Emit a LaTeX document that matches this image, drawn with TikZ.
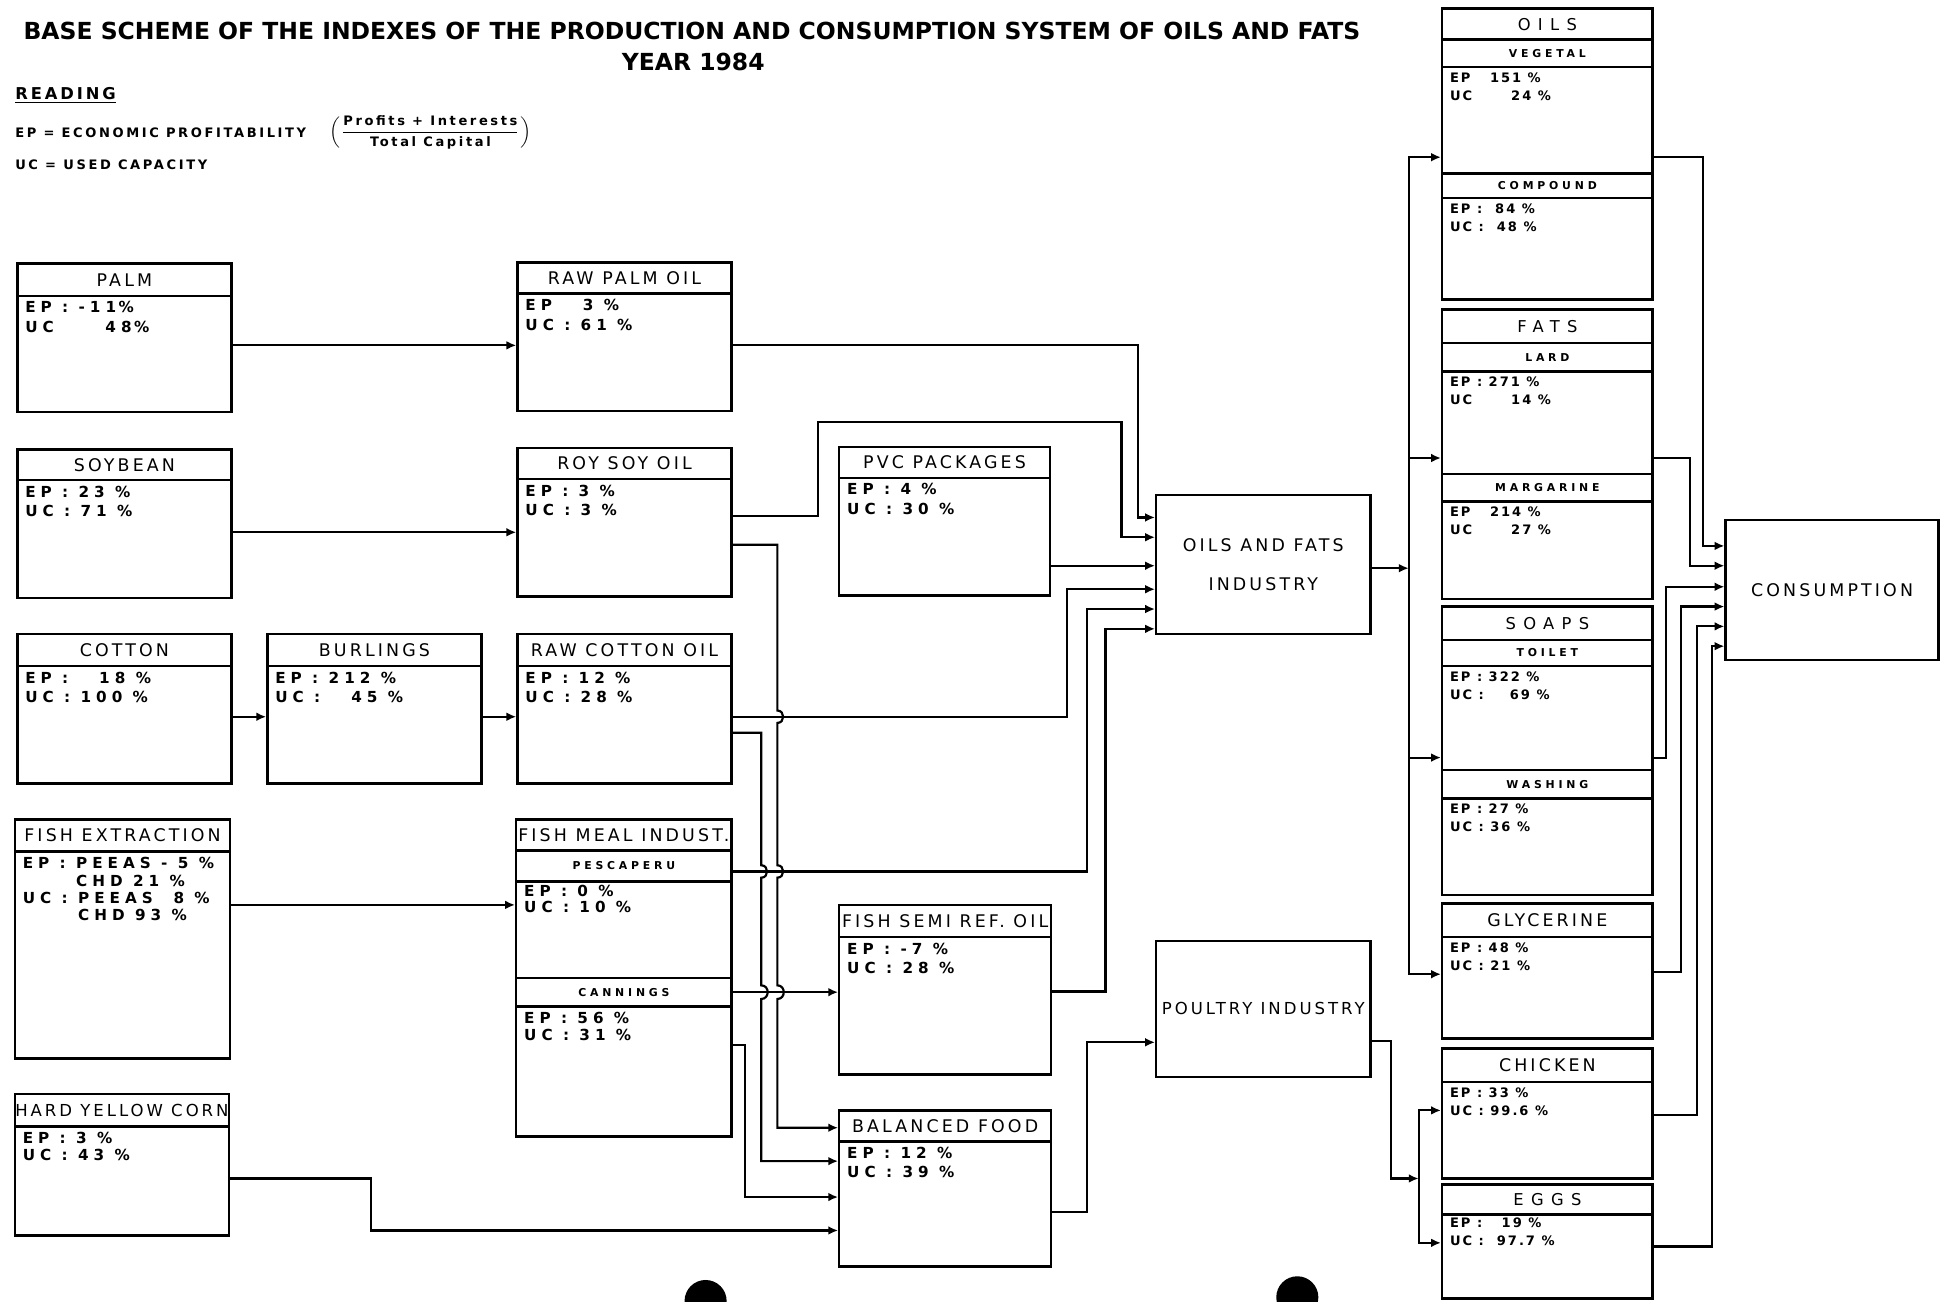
\documentclass[tikz,border=0pt]{standalone}
\usepackage{amsmath}
\usepackage{fontspec}
\setmainfont{DejaVu Sans}
\newfontfamily\headfont[LetterSpace=18]{DejaVu Sans}
\newfontfamily\widefont[LetterSpace=45]{DejaVu Sans}
\newfontfamily\bandfont[LetterSpace=35]{DejaVu Sans}
\newfontfamily\valfont[LetterSpace=33]{DejaVu Sans}
\newfontfamily\valrfont[LetterSpace=15]{DejaVu Sans}
\newfontfamily\legendfont[LetterSpace=20]{DejaVu Sans}
\usetikzlibrary{arrows.meta, fit}

\begin{document}
\begin{tikzpicture}[
    x=0.02cm, y=-0.02cm, inner sep=0pt,
    head/.style={draw, line width=1.1pt, label={[font=\headfont\fontsize{8}{9}\selectfont]center:#1}},
    headw/.style={draw, line width=1.1pt, label={[font=\widefont\fontsize{7.5}{9}\selectfont]center:#1}},
    band/.style={draw, line width=1.1pt, label={[font=\bandfont\bfseries\fontsize{5}{6}\selectfont]center:#1}},
    body/.style={draw, line width=1.1pt},
    vals/.style={anchor=north west, inner xsep=4pt, inner ysep=3pt, align=left, font=\valfont\bfseries\fontsize{7}{9}\selectfont},
    valsr/.style={vals, font=\valrfont\bfseries\fontsize{6}{8.3}\selectfont},
    unit/.style={draw, line width=1.1pt, label={[align=center, font=\headfont\fontsize{8}{9}\selectfont]center:#1}},
    legend/.style={anchor=west, font=\legendfont\bfseries\fontsize{6}{7}\selectfont},
    arr/.style={-{Latex[length=4.5pt, width=4pt]}, line width=1pt},
    hop/.style={out=0, in=0, looseness=1.6}
  ]
  \useasboundingbox (0,0) rectangle (1568,1051);

  % heading
  \node[font=\bfseries\fontsize{10.8}{13}\selectfont] (title) at (559,25) {BASE SCHEME OF THE INDEXES OF THE PRODUCTION AND CONSUMPTION SYSTEM OF OILS AND FATS};
  \node[font=\bfseries\fontsize{10.8}{13}\selectfont] (year) at (560,50) {YEAR 1984};
  \node[anchor=west, font=\headfont\bfseries\fontsize{7.5}{9}\selectfont] (reading) at (12,77) {\underline{READING}};
  \node[legend] (epdef) at (12,107) {EP = ECONOMIC PROFITABILITY};
  \node[legend] (ratio) at (266,107) {$\left(\dfrac{\mbox{Profits + Interests}}{\mbox{Total Capital}}\right)$};
  \node[legend] (ucdef) at (12,133) {UC = USED CAPACITY};

  % raw materials
  \node[head=PALM, fit={(14,213) (187,239)}] (palmh) {};
  \node[body, fit={(14,239) (187,333)}] (palm) {};
  \node[vals] (palmv) at (palm.north west) {EP : -11\,\%\\UC~~~~~48\,\%};
  \node[head=SOYBEAN, fit={(14,363) (187,388)}] (soyh) {};
  \node[body, fit={(14,388) (187,483)}] (soy) {};
  \node[vals] (soyv) at (soy.north west) {EP : 23 \%\\UC : 71 \%};
  \node[head=COTTON, fit={(14,512) (187,538)}] (cottonh) {};
  \node[body, fit={(14,538) (187,633)}] (cotton) {};
  \node[vals] (cottonv) at (cotton.north west) {EP :~~~18 \%\\UC : 100 \%};
  \node[head=FISH EXTRACTION, fit={(12,662) (186,688)}] (fishexh) {};
  \node[body, fit={(12,688) (186,855)}] (fishex) {};
  \node[vals, font=\valfont\bfseries\fontsize{7}{8}\selectfont] (fishexv) at (fishex.north west) {EP : PEEAS - 5 \%\\\phantom{EP : }CHD 21 \%\\UC : PEEAS~~8 \%\\\phantom{UC : }CHD 93 \%};
  \node[draw, line width=1.1pt, fit={(12,884) (185,910)}, label={[font=\headfont\fontsize{7.6}{9}\selectfont]center:HARD YELLOW CORN}] (cornh) {};
  \node[body, fit={(12,910) (185,998)}] (corn) {};
  \node[vals, font=\valfont\bfseries\fontsize{7}{8}\selectfont] (cornv) at (corn.north west) {EP : 3 \%\\UC : 43 \%};

  % first processing
  \node[head=BURLINGS, fit={(216,512) (389,538)}] (burlh) {};
  \node[body, fit={(216,538) (389,633)}] (burl) {};
  \node[vals] (burlv) at (burl.north west) {EP : 212 \%\\UC :~~~45 \%};
  \node[head=RAW PALM OIL, fit={(418,212) (591,237)}] (rawpalmh) {};
  \node[body, fit={(418,237) (591,332)}] (rawpalm) {};
  \node[vals] (rawpalmv) at (rawpalm.north west) {EP~~~3 \%\\UC : 61 \%};
  \node[head=ROY SOY OIL, fit={(418,362) (591,387)}] (roysoyh) {};
  \node[body, fit={(418,387) (591,482)}] (roysoy) {};
  \node[vals] (roysoyv) at (roysoy.north west) {EP : 3 \%\\UC : 3 \%};
  \node[head=RAW COTTON OIL, fit={(418,512) (591,538)}] (rawcoth) {};
  \node[body, fit={(418,538) (591,633)}] (rawcot) {};
  \node[vals] (rawcotv) at (rawcot.north west) {EP : 12 \%\\UC : 28 \%};
  \node[head=FISH MEAL INDUST., fit={(417,662) (591,687)}] (fmh) {};
  \node[band=PESCAPERU, fit={(417,687) (591,712)}] (fmpes) {};
  \node[body, fit={(417,712) (591,790)}] (fmpesb) {};
  \node[vals, inner ysep=2pt, font=\valfont\bfseries\fontsize{7}{7.5}\selectfont] (fmpesv) at (fmpesb.north west) {EP : 0 \%\\UC : 10 \%};
  \node[band=CANNINGS, fit={(417,790) (591,813)}] (fmcan) {};
  \node[body, fit={(417,813) (591,918)}] (fmcanb) {};
  \node[vals, font=\valfont\bfseries\fontsize{7}{8}\selectfont] (fmcanv) at (fmcanb.north west) {EP : 56 \%\\UC : 31 \%};

  % second processing
  \node[head=PVC PACKAGES, fit={(678,361) (848,386)}] (pvch) {};
  \node[body, fit={(678,386) (848,481)}] (pvc) {};
  \node[vals] (pvcv) at (pvc.north west) {EP : 4 \%\\UC : 30 \%};
  \node[head=FISH SEMI REF. OIL, fit={(678,731) (849,757)}] (fishsemih) {};
  \node[body, fit={(678,757) (849,868)}] (fishsemi) {};
  \node[vals] (fishsemiv) at (fishsemi.north west) {EP : -7 \%\\UC : 28 \%};
  \node[head=BALANCED FOOD, fit={(678,897) (849,922)}] (bfh) {};
  \node[body, fit={(678,922) (849,1023)}] (balfood) {};
  \node[vals] (balfoodv) at (balfood.north west) {EP : 12 \%\\UC : 39 \%};
  \node[unit={OILS AND FATS\\[9pt]INDUSTRY}, fit={(934,400) (1107,512)}] (oaf) {};
  \node[draw, line width=1.1pt, fit={(934,760) (1107,870)}, label={[font=\headfont\fontsize{7.6}{9}\selectfont]center:POULTRY INDUSTRY}] (poultry) {};

  % products
  \node[headw=OILS, fit={(1165,7) (1335,32)}] (oilsh) {};
  \node[band=VEGETAL, fit={(1165,32) (1335,54)}] (veg) {};
  \node[body, fit={(1165,54) (1335,140)}] (vegb) {};
  \node[valsr] (vegv) at (vegb.north west) {EP~~~151 \%\\UC~~~~~~24 \%};
  \node[band=COMPOUND, fit={(1165,140) (1335,160)}] (comp) {};
  \node[body, fit={(1165,160) (1335,242)}] (compb) {};
  \node[valsr] (compv) at (compb.north west) {EP :~~84 \%\\UC :~~48 \%};
  \node[headw=FATS, fit={(1165,250) (1335,277)}] (fatsh) {};
  \node[band=LARD, fit={(1165,277) (1335,300)}] (lard) {};
  \node[body, fit={(1165,300) (1335,383)}] (lardb) {};
  \node[valsr] (lardv) at (lardb.north west) {EP : 271 \%\\UC~~~~~~14 \%};
  \node[band=MARGARINE, fit={(1165,383) (1335,405)}] (marg) {};
  \node[body, fit={(1165,405) (1335,484)}] (margb) {};
  \node[valsr] (margv) at (margb.north west) {EP~~~214 \%\\UC~~~~~~27 \%};
  \node[headw=SOAPS, fit={(1165,490) (1335,517)}] (soapsh) {};
  \node[band=TOILET, fit={(1165,517) (1335,538)}] (toilet) {};
  \node[body, fit={(1165,538) (1335,622)}] (toiletb) {};
  \node[valsr] (toiletv) at (toiletb.north west) {EP : 322 \%\\UC :~~~~69 \%};
  \node[band=WASHING, fit={(1165,622) (1335,645)}] (wash) {};
  \node[body, fit={(1165,645) (1335,723)}] (washb) {};
  \node[valsr] (washv) at (washb.north west) {EP : 27 \%\\UC : 36 \%};
  \node[head=GLYCERINE, fit={(1165,730) (1335,757)}] (glyh) {};
  \node[body, fit={(1165,757) (1335,839)}] (glyb) {};
  \node[valsr] (glyv) at (glyb.north west) {EP : 48 \%\\UC : 21 \%};
  \node[head=CHICKEN, fit={(1165,847) (1335,874)}] (chickh) {};
  \node[body, fit={(1165,874) (1335,952)}] (chickb) {};
  \node[valsr] (chickv) at (chickb.north west) {EP : 33 \%\\UC : 99.6 \%};
  \node[headw=EGGS, fit={(1165,957) (1335,981)}] (eggsh) {};
  \node[body, fit={(1165,981) (1335,1049)}] (eggsb) {};
  \node[valsr, inner ysep=2pt] (eggsv) at (eggsb.north west) {EP :~~~19 \%\\UC :~~97.7 \%};
  \node[unit=CONSUMPTION, fit={(1394,420) (1566,533)}] (cons) {};

  \coordinate (oafbus) at (1138,459);
  \coordinate (poubus) at (1146,952);

  % raw materials to first processing
  \draw[arr] (palm.east |- 0,279) -- (rawpalm.west |- 0,279);
  \draw[arr] (soy.east |- 0,430) -- (roysoy.west |- 0,430);
  \draw[arr] (cotton.east |- 0,579) -- (burl.west |- 0,579);
  \draw[arr] (burl.east |- 0,579) -- (rawcot.west |- 0,579);
  \draw[arr] (fishex.east |- 0,731) -- (fmpesb.west |- 0,731);
  \draw[arr] (corn.east |- 0,952) -| (300,994) -- (balfood.west |- 0,994);

  % into oils and fats industry
  \draw[arr] (rawpalm.east |- 0,279) -| (919,418) -- (oaf.west |- 0,418);
  \draw[arr] (roysoy.east |- 0,417) -| (661,341) -| (906,434) -- (oaf.west |- 0,434);
  \draw[arr] (pvc.east |- 0,457) -- (oaf.west |- 0,457);
  \draw[arr] (rawcot.east |- 0,579) -| (862,476) -- (oaf.west |- 0,476);
  \draw[arr] (fmpes.east |- 0,704) -| (878,492) -- (oaf.west |- 0,492);
  \draw[arr] (fishsemi.east |- 0,801) -| (893,508) -- (oaf.west |- 0,508);
  \draw[arr] (fmcan.east) -- (fishsemi.west |- fmcan.east);

  % into balanced food
  \draw[arr] (roysoy.east |- 0,440) -- (628,440) -- (628,574) to[hop] (628,584)
    -- (628,699) to[hop] (628,709) -- (628,796) to[hop] (628,807) -- (628,911) -- (bfh.west |- 0,911);
  \draw[arr] (rawcot.east |- 0,592) -- (615,592) -- (615,699) to[hop] (615,709)
    -- (615,796) to[hop] (615,807) -- (615,938) -- (balfood.west |- 0,938);
  \draw[arr] (fmcanb.east |- 0,844) -| (602,967) -- (balfood.west |- 0,967);
  \draw[arr] (balfood.east |- 0,979) -| (878,842) -- (poultry.west |- 0,842);

  % industries to products
  \draw[arr] (oaf.east |- oafbus) -- (oafbus);
  \draw[arr] (oafbus) |- (vegb.west |- 0,127);
  \draw[arr] (oafbus) |- (lardb.west |- 0,370);
  \draw[arr] (oafbus) |- (toiletb.west |- 0,612);
  \draw[arr] (oafbus) |- (glyb.west |- 0,787);
  \draw[arr] (poultry.east |- 0,841) -| (1124,952) -- (poubus);
  \draw[arr] (poubus) |- (chickb.west |- 0,897);
  \draw[arr] (poubus) |- (eggsb.west |- 0,1004);

  % products to consumption
  \draw[arr] (vegb.east |- 0,127) -| (1376,441) -- (cons.west |- 0,441);
  \draw[arr] (lardb.east |- 0,370) -| (1365,457) -- (cons.west |- 0,457);
  \draw[arr] (toiletb.east |- 0,612) -| (1346,474) -- (cons.west |- 0,474);
  \draw[arr] (glyb.east |- 0,785) -| (1358,490) -- (cons.west |- 0,490);
  \draw[arr] (chickb.east |- 0,901) -| (1371,506) -- (cons.west |- 0,506);
  \draw[arr] (eggsb.east |- 0,1007) -| (1383,522) -- (cons.west |- 0,522);

  % punch holes of the scan
  \fill (570,1051) circle[radius=17];
  \fill (1048,1048) circle[radius=17];
\end{tikzpicture}
\end{document}
